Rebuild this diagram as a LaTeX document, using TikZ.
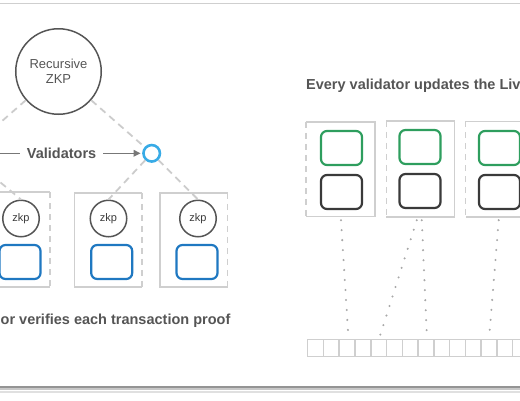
\documentclass[tikz,border=0pt]{standalone}
\usepackage{fontspec}
\setmainfont{Liberation Sans}
\usetikzlibrary{arrows.meta}
\definecolor{txtgray}{HTML}{555555}
\definecolor{circgray}{HTML}{555555}
\definecolor{dashgray}{HTML}{CCCCCC}
\definecolor{boxgray}{HTML}{CFCFCF}
\definecolor{rectblue}{HTML}{1F78C1}
\definecolor{ringcyan}{HTML}{38ABE6}
\definecolor{rectgreen}{HTML}{2E9E5E}
\definecolor{rectdark}{HTML}{3A3A3A}
\definecolor{dotgray}{HTML}{A8A8A8}
\definecolor{arrgray}{HTML}{777777}
\begin{document}
\begin{tikzpicture}[x=1pt,y=-1pt,
  boxn/.style={rectangle,draw=none,inner sep=0pt},
  boxline/.style={draw=boxgray,line width=1.5pt},
  boxdash/.style={draw=boxgray,line width=1.5pt,dash pattern=on 6pt off 5pt},
  zkpc/.style={circle,draw=circgray,line width=1.5pt,minimum size=36.5pt,inner sep=0pt,
    font=\fontsize{11}{12}\selectfont,text=rectdark},
  ring/.style={circle,draw=ringcyan,line width=2.6pt,minimum size=16.5pt,inner sep=0pt},
  hidring/.style={circle,draw=none,minimum size=19pt,inner sep=0pt},
  rrect/.style={rectangle,rounded corners=6pt,line width=2.2pt,minimum width=41pt,minimum height=34pt,inner sep=0pt},
  treedash/.style={draw=dashgray,line width=1.8pt,dash pattern=on 7pt off 5pt},
  dotline/.style={draw=dotgray,line width=2.3pt,line cap=round,dash pattern=on 0pt off 10pt},
  cell/.style={rectangle,draw=boxgray,line width=1.5pt,minimum width=15.77pt,minimum height=17pt,inner sep=0pt},
  boldtxt/.style={font=\fontsize{14.5}{17}\bfseries\selectfont,text=txtgray,inner sep=0pt},
]
\useasboundingbox (0,0) rectangle (520,400);
\clip (0,0) rectangle (520,400);

% card frame
\draw[draw=boxgray,line width=1pt] (-5,3.3) -- (525,3.3);
\draw[draw=black!12,line width=2pt] (-5,391.5) -- (525,391.5);
\draw[draw=black!22,line width=2pt] (-5,389.3) -- (525,389.3);
\draw[draw=black!42,line width=2pt] (-5,387) -- (525,387);

% ---------------- left panel ----------------
\node[circle,draw=circgray,line width=1.5pt,minimum size=85.5pt,inner sep=0pt,align=center,
      font=\fontsize{13}{15.5}\selectfont,text=txtgray] (main) at (58.5,71.5) {Recursive\\ZKP};
\node[hidring] (lc) at (-34.7,153.3) {};
\node[ring] (bc) at (151.7,153.3) {};

% boxes
\node[boxn,minimum width=68pt,minimum height=94.5pt] (lb1) at (16,239.5) {};
\node[boxn,minimum width=67pt,minimum height=94pt] (lb2) at (108.4,240) {};
\node[boxn,minimum width=67pt,minimum height=94pt] (lb3) at (193.8,240) {};
\foreach \b in {lb1,lb2,lb3}{
  \draw[boxline] (\b.north east) -- (\b.north west) -- (\b.south west) -- (\b.south east);
  \draw[boxdash] (\b.north east) -- (\b.south east);
}

\node[zkpc] (z1) at (21,218.5) {zkp};
\node[zkpc] (z2) at (108.5,218.5) {zkp};
\node[zkpc] (z3) at (198,218.5) {zkp};
\node[rrect,draw=rectblue] (t1) at (20,262) {};
\node[rrect,draw=rectblue] (t2) at (111.7,262) {};
\node[rrect,draw=rectblue] (t3) at (197,262) {};

\draw[treedash] (main) -- (bc);
\draw[treedash] (main) -- (lc);
\draw[treedash] (bc) -- (z2.north);
\draw[treedash] (bc) -- (z3.north);
\draw[treedash] (lc) -- (z1.north);

\draw[draw=arrgray,line width=1.6pt,-{Triangle[length=7pt,width=6.5pt]},shorten >=1.5pt]
  (lc) -- node[pos=0.518,boldtxt,fill=white,inner xsep=7pt,inner ysep=2pt] (vlab) {Validators} (bc);

\node[boldtxt,anchor=base west] (ltxt) at (0.5,324) {or verifies each transaction proof};

% ---------------- right panel ----------------
\node[boldtxt,anchor=base west] (rtitle) at (306,89.3) {Every validator updates the Liv};

\node[boxn,minimum width=69pt,minimum height=94.5pt] (ra) at (340.5,169.2) {};
\node[boxn,minimum width=67.5pt,minimum height=95.5pt] (rb) at (420.3,168.8) {};
\node[boxn,minimum width=69pt,minimum height=95.5pt] (rc) at (500.2,169.2) {};
\foreach \b in {ra,rb,rc}{
  \draw[boxline] (\b.north west) -- (\b.north east) -- (\b.south east) -- (\b.south west);
  \draw[boxdash] (\b.north west) -- (\b.south west);
}

\node[rrect,draw=rectgreen] (ga) at (341.5,148) {};
\node[rrect,draw=rectgreen] (gb) at (420,147) {};
\node[rrect,draw=rectgreen] (gc) at (499.5,148) {};
\node[rrect,draw=rectdark] (da) at (341.5,192) {};
\node[rrect,draw=rectdark] (db) at (420,191) {};
\node[rrect,draw=rectdark] (dc) at (499.5,192) {};

% ledger cells
\foreach \i in {0,...,14}{
  \node[cell] (s\i) at ({307.7+15.77*\i+7.885},348) {};
}

\draw[dotline] ([xshift=0.5pt,yshift=-3.5pt]ra.south) -- ([xshift=1pt,yshift=6pt]s2.north);
\draw[dotline] ([xshift=-3.5pt,yshift=-3.5pt]rb.south) -- ([xshift=1.3pt,yshift=3pt]s4.north);
\draw[dotline] ([xshift=1.5pt,yshift=-3.5pt]rb.south) -- ([xshift=0.7pt,yshift=7pt]s7.north);
\draw[dotline] ([xshift=-1.5pt,yshift=-3pt]rc.south) -- ([xshift=0.5pt,yshift=6pt]s11.north);
\end{tikzpicture}
\end{document}
